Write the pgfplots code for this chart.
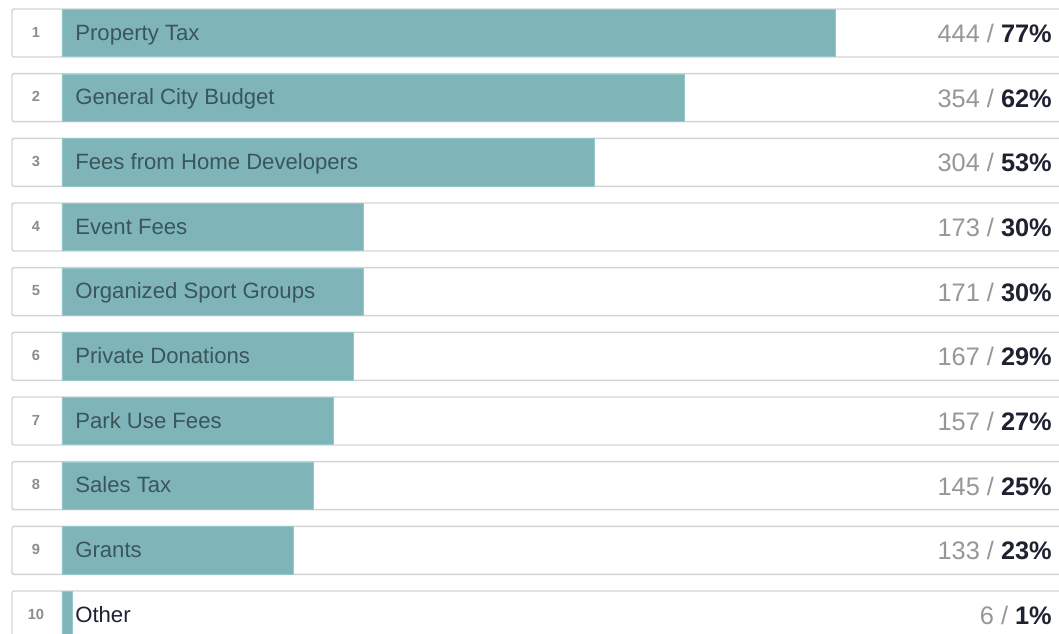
\documentclass[border=0pt]{standalone}
\usepackage{pgfplots}
\pgfplotsset{compat=1.18}
\usepackage{pgfplotstable}
\usepackage{fontspec}
\setmainfont{Liberation Sans}
\definecolor{barteal}{RGB}{127,181,185}
\definecolor{barline}{RGB}{150,200,203}
\definecolor{lbltxt}{RGB}{58,86,90}
\definecolor{valgrey}{RGB}{150,150,155}
\definecolor{pctdark}{RGB}{30,33,48}
\definecolor{rankgrey}{RGB}{140,140,145}
\definecolor{frame}{RGB}{212,212,214}
\pgfplotstableread{
y pct
33 77
97.67 62
162.33 53
227 30
291.67 30
356.33 29
421 27
485.67 25
550.33 23
615 1
}\datatab
\begin{document}
\begin{tikzpicture}
\begin{axis}[
  scale only axis,
  width=794.25pt, height=474.75pt,
  xmin=-6.175, xmax=99.30,
  ymin=0, ymax=633, y dir=reverse,
  axis lines=none,
  clip=false,
]
% row frames
\pgfplotsinvokeforeach{33,97.67,162.33,227,291.67,356.33,421,485.67,550.33,615}{
  \draw[frame, line width=1.1pt, fill=white, rounded corners=1.5pt] (axis cs:-4.98,#1-24) rectangle (axis cs:101,#1+24);
}
\addplot[xbar, bar width=47.5, fill=barteal, draw=barline, line width=0.4pt] table[x=pct, y=y] {\datatab};
% labels
\def\lbl#1#2#3{\node[anchor=base west, text=#3, font=\fontsize{16.6pt}{18pt}\selectfont, inner sep=0pt] at (axis cs:1.3,#1+7) {#2};}
\lbl{33}{Property Tax}{lbltxt}
\lbl{97.67}{General City Budget}{lbltxt}
\lbl{162.33}{Fees from Home Developers}{lbltxt}
\lbl{227}{Event Fees}{lbltxt}
\lbl{291.67}{Organized Sport Groups}{lbltxt}
\lbl{356.33}{Private Donations}{lbltxt}
\lbl{421}{Park Use Fees}{lbltxt}
\lbl{485.67}{Sales Tax}{lbltxt}
\lbl{550.33}{Grants}{lbltxt}
\lbl{615}{Other}{pctdark}
% rank numbers
\def\rk#1#2{\node[anchor=base, text=rankgrey, font=\fontsize{11pt}{12pt}\selectfont\bfseries, inner sep=0pt] at (axis cs:-2.59,#1+4.3) {#2};}
\rk{33}{1}\rk{97.67}{2}\rk{162.33}{3}\rk{227}{4}\rk{291.67}{5}
\rk{356.33}{6}\rk{421}{7}\rk{485.67}{8}\rk{550.33}{9}\rk{615}{10}
% values
\def\vl#1#2#3{\node[anchor=base east, font=\fontsize{19pt}{21pt}\selectfont, inner sep=0pt] at (axis cs:98.6,#1+9.5) {\textcolor{valgrey}{#2 /} \textcolor{pctdark}{\bfseries #3\%}};}
\vl{33}{444}{77}
\vl{97.67}{354}{62}
\vl{162.33}{304}{53}
\vl{227}{173}{30}
\vl{291.67}{171}{30}
\vl{356.33}{167}{29}
\vl{421}{157}{27}
\vl{485.67}{145}{25}
\vl{550.33}{133}{23}
\vl{615}{6}{1}
\end{axis}
\pgfresetboundingbox
\useasboundingbox (current axis.south west) rectangle (current axis.north east);
\end{tikzpicture}
\end{document}
